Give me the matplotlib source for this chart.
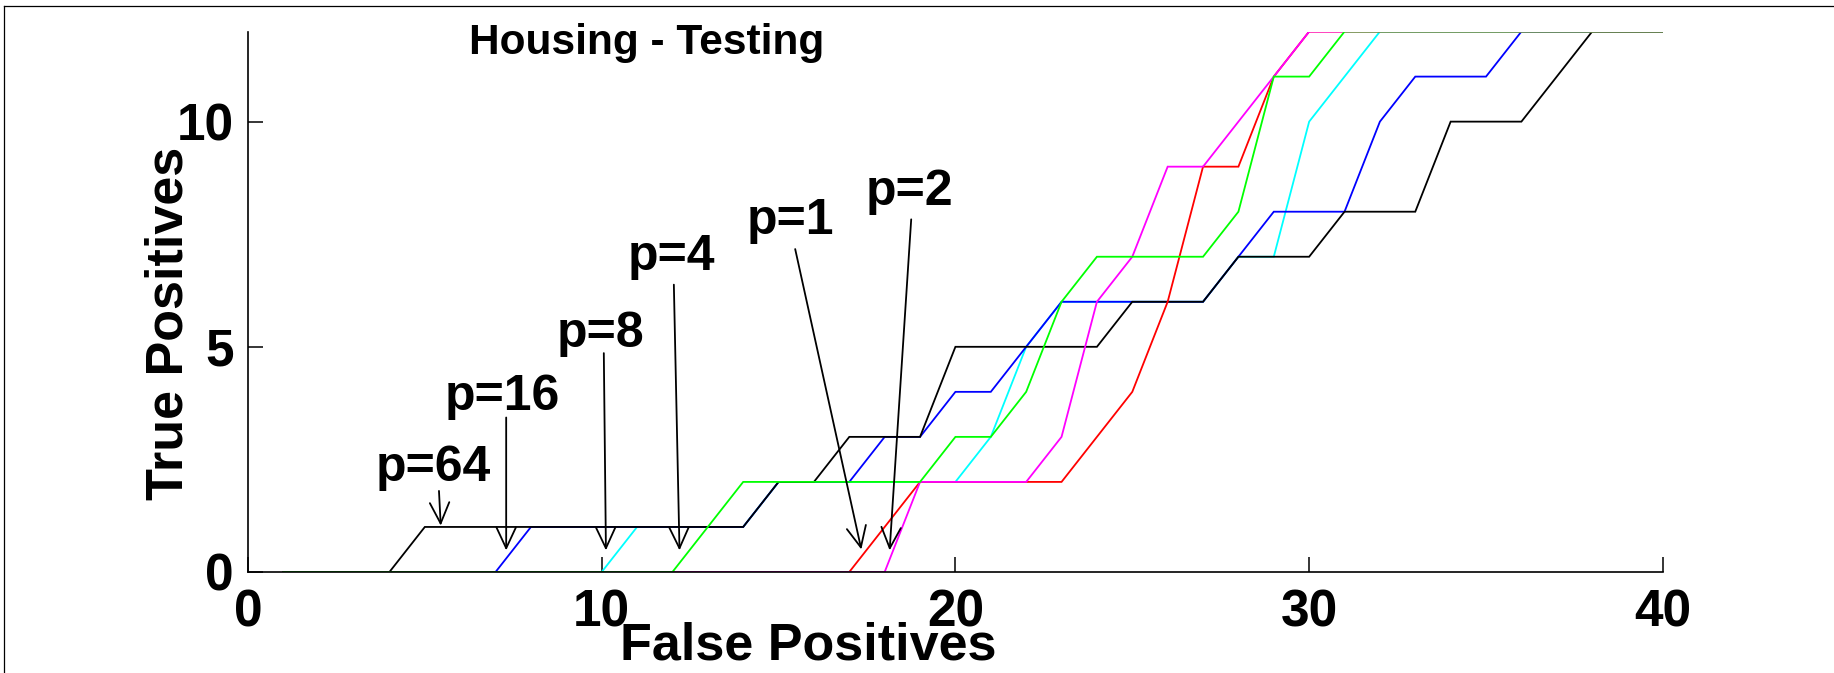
import matplotlib
matplotlib.use("Agg")
import matplotlib.pyplot as plt
from matplotlib.lines import Line2D

# ROC-like curves (false positives vs true positives), one per p
fp_p8 = [1, 10, 11, 14, 15, 20, 21, 22, 23, 27, 28, 29, 30, 32, 40]
tp_p8 = [0, 0, 1, 1, 2, 2, 3, 5, 6, 6, 7, 7, 10, 12, 12]

fp_p16 = [1, 7, 8, 14, 15, 17, 18, 19, 20, 21, 23, 27, 28, 29, 31, 32, 33, 35, 36, 40]
tp_p16 = [0, 0, 1, 1, 2, 2, 3, 3, 4, 4, 6, 6, 7, 8, 8, 10, 11, 11, 12, 12]

fp_p64 = [1, 4, 5, 14, 15, 16, 17, 19, 20, 24, 25, 27, 28, 30, 31, 33, 34, 36, 38, 40]
tp_p64 = [0, 0, 1, 1, 2, 2, 3, 3, 5, 5, 6, 6, 7, 7, 8, 8, 10, 10, 12, 12]

fp_p1 = [1, 17, 19, 23, 25, 26, 27, 28, 29, 30, 40]
tp_p1 = [0, 0, 2, 2, 4, 6, 9, 9, 11, 12, 12]

fp_p2 = [1, 18, 19, 22, 23, 24, 25, 26, 27, 28, 29, 30, 40]
tp_p2 = [0, 0, 2, 2, 3, 6, 7, 9, 9, 10, 11, 12, 12]

fp_p4 = [1, 12, 14, 19, 20, 21, 22, 23, 24, 27, 28, 29, 30, 31, 40]
tp_p4 = [0, 0, 2, 2, 3, 3, 4, 6, 7, 7, 8, 11, 11, 12, 12]

# annotation labels: text anchor (left, baseline) and arrow tail -> tip
ann_labels = ["p=64", "p=16", "p=8", "p=4", "p=1", "p=2"]
ann_text_xy = [(3.62, 2.03), (5.56, 3.6), (8.72, 5.0), (10.74, 6.7), (14.1, 7.5), (17.45, 8.15)]
ann_tail = [(5.4, 1.8), (7.3, 3.43), (10.06, 4.86), (12.04, 6.38), (15.47, 7.17), (18.75, 7.83)]
ann_tip = [(5.45, 1.03), (7.3, 0.48), (10.12, 0.48), (12.2, 0.48), (17.34, 0.5), (18.14, 0.48)]

font = "Liberation Sans"

fig = plt.figure(figsize=(18.34, 6.73), dpi=100)
ax = fig.add_axes([0.1352, 0.1501, 0.7715, 0.803])

curves = [
    (fp_p8, tp_p8, "#00ffff"),
    (fp_p16, tp_p16, "#0000ff"),
    (fp_p64, tp_p64, "#000000"),
    (fp_p1, tp_p1, "#ff0000"),
    (fp_p2, tp_p2, "#ff00ff"),
    (fp_p4, tp_p4, "#00ff00"),
]
for xs, ys, c in curves:
    ax.plot(xs, ys, color=c, lw=1.3, solid_joinstyle="miter")

ax.set_xlim(0, 40)
ax.set_ylim(0, 12)
ax.spines["top"].set_visible(False)
ax.spines["right"].set_visible(False)
for s in ("left", "bottom"):
    ax.spines[s].set_linewidth(1.2)

ax.set_xticks([0, 10, 20, 30, 40], ["0", "10", "20", "30", "40"],
              fontfamily=font, fontweight="bold", fontsize=37)
ax.set_yticks([0, 5, 10], ["0", "5", "10"],
              fontfamily=font, fontweight="bold", fontsize=37)
ax.tick_params(axis="both", direction="in", length=10.5, width=1.1)
ax.tick_params(axis="x", pad=12)
ax.tick_params(axis="y", pad=10)

ax.set_xlabel("False Positives", fontfamily=font, fontweight="bold", fontsize=37.5)
ax.xaxis.set_label_coords(0.396, -0.0925)
ax.set_ylabel("True Positives", fontfamily=font, fontweight="bold", fontsize=37.5)
ax.yaxis.label.set_va("center")
ax.yaxis.set_label_coords(-0.056, 0.46)

ax.set_title("Housing - Testing", x=0.2818, y=0.9586, pad=0,
             fontfamily=font, fontweight="bold", fontsize=30.5)

for lab, txy, tail, tip in zip(ann_labels, ann_text_xy, ann_tail, ann_tip):
    ax.text(txy[0], txy[1], lab, ha="left", va="baseline",
            fontfamily=font, fontweight="bold", fontsize=36)
    ax.annotate("", xy=tip, xytext=tail,
                arrowprops=dict(arrowstyle="->,head_length=1.5,head_width=0.7",
                                color="black", lw=1.3, shrinkA=0, shrinkB=0))

# thin frame lines along the top and left edge of the picture
fig.add_artist(Line2D([0.002, 1.0], [0.991, 0.991], color="black", lw=0.9))
fig.add_artist(Line2D([0.002, 0.002], [0.0, 0.991], color="black", lw=0.9))

fig.savefig("out.png", dpi=100)
